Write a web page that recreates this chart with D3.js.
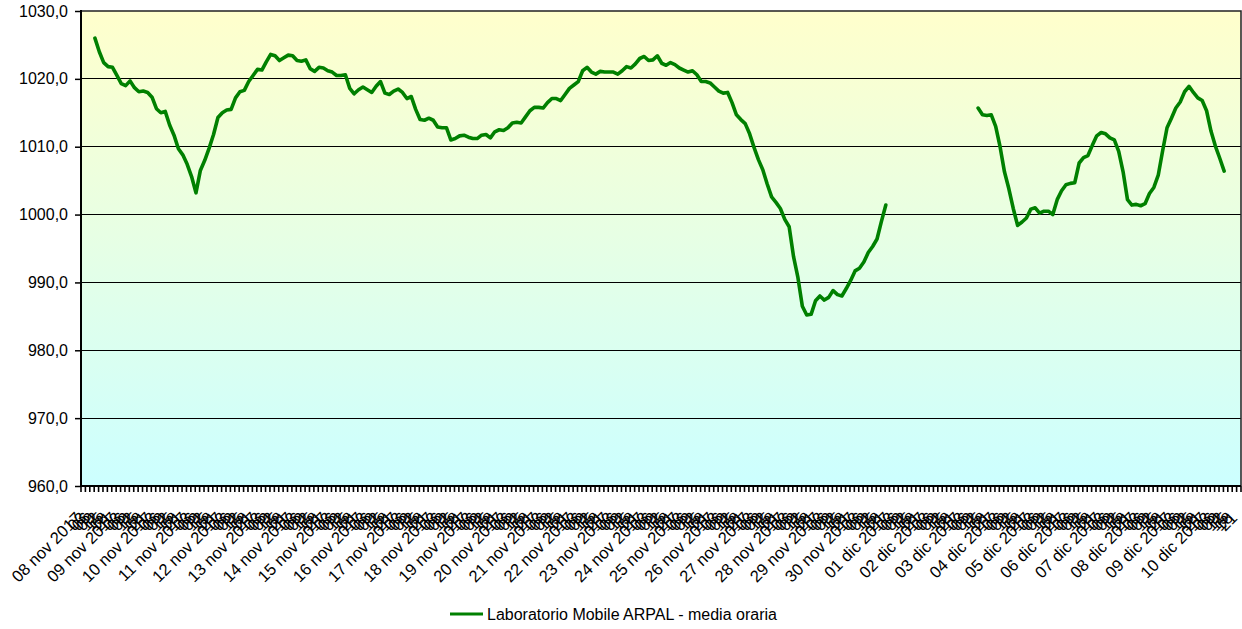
<!DOCTYPE html>
<html><head><meta charset="utf-8">
<script src="https://cdn.jsdelivr.net/npm/d3@7"></script>
<style>
body{margin:0;background:#fff}
svg{display:block}
text{font-family:"Liberation Sans",Arial,sans-serif}
</style>
</head><body>
<svg id="chart" width="1242" height="629"></svg>
<script>
// ---------- data ----------
const startYear = 2017, startMonth = 10, startDay = 8;   // 08 nov 2017
const numDays = 33;                                      // up to 10 dic
const monthNames = ["gen","feb","mar","apr","mag","giu","lug","ago","set","ott","nov","dic"];
const yTickValues = [960, 970, 980, 990, 1000, 1010, 1020, 1030];
const firstHour = 9;      // first reading: 08 nov 09:00
const stepHours = 3;      // readings every 3 hours
const pressure = [
1026.0,1024.0,1022.4,1021.8,1021.7,1020.5,1019.3,1019.0,1019.7,1018.7,
1018.1,1018.2,1018.0,1017.3,1015.6,1015.0,1015.2,1013.2,1011.7,1009.7,
1008.8,1007.4,1005.6,1003.2,1006.5,1008.0,1009.8,1011.8,1014.3,1015.0,
1015.4,1015.5,1017.2,1018.1,1018.3,1019.6,1020.5,1021.4,1021.3,1022.5,
1023.6,1023.4,1022.7,1023.1,1023.5,1023.4,1022.7,1022.6,1022.8,1021.5,
1021.1,1021.7,1021.6,1021.2,1021.0,1020.5,1020.5,1020.6,1018.6,1017.8,
1018.4,1018.8,1018.4,1018.0,1018.9,1019.6,1017.9,1017.7,1018.2,1018.5,
1018.0,1017.1,1017.4,1015.5,1014.0,1013.9,1014.2,1013.9,1012.9,1012.8,
1012.8,1011.0,1011.2,1011.6,1011.7,1011.4,1011.2,1011.2,1011.7,1011.8,
1011.3,1012.2,1012.5,1012.4,1012.8,1013.5,1013.6,1013.5,1014.4,1015.3,
1015.8,1015.8,1015.7,1016.5,1017.1,1017.1,1016.8,1017.7,1018.6,1019.1,
1019.6,1021.2,1021.7,1021.0,1020.7,1021.1,1021.0,1021.0,1021.0,1020.7,
1021.2,1021.8,1021.6,1022.2,1023.0,1023.3,1022.7,1022.8,1023.4,1022.3,
1022.0,1022.4,1022.1,1021.6,1021.3,1021.0,1021.2,1020.6,1019.6,1019.6,
1019.4,1018.8,1018.2,1017.9,1018.0,1016.5,1014.7,1014.0,1013.4,1011.9,
1009.9,1008.1,1006.6,1004.5,1002.6,1001.8,1000.9,999.3,998.2,993.8,
990.7,986.5,985.2,985.3,987.3,988.0,987.4,987.8,988.8,988.2,
988.0,989.1,990.3,991.7,992.1,993.0,994.4,995.3,996.4,999.0,1001.4,
null,null,null,null,null,null,null,null,null,null,
null,null,null,null,null,null,null,null,null,null,
1015.7,1014.7,1014.6,1014.7,1013.0,1010.0,1006.3,1003.8,1000.9,998.4,
998.9,999.5,1000.8,1001.0,1000.2,1000.5,1000.5,1000.0,1002.2,1003.5,
1004.4,1004.6,1004.7,1007.6,1008.4,1008.7,1010.2,1011.6,1012.1,1011.9,
1011.3,1011.0,1009.3,1006.3,1002.2,1001.4,1001.5,1001.3,1001.6,1003.1,
1004.0,1005.8,1009.4,1012.8,1014.2,1015.7,1016.6,1018.1,1018.9,1018.0,
1017.2,1016.8,1015.3,1012.3,1010.1,1008.3,1006.4
];
const seriesName = "Laboratorio Mobile ARPAL - media oraria";

// ---------- layout ----------
const W = 1242, H = 629;
const plot = {left: 81, right: 1241, top: 11, bottom: 486};
const svg = d3.select("#chart");

// hourly categories
const hours = d3.range(numDays * 24);
const catDate = h => new Date(startYear, startMonth, startDay + Math.floor(h / 24), h % 24);
const x = d3.scaleBand().domain(hours).range([plot.left, plot.right]).paddingInner(0).paddingOuter(0);
const xc = h => x(h) + x.bandwidth() / 2;
const y = d3.scaleLinear().domain([960, 1030]).range([plot.bottom, plot.top]);

// background gradient
const defs = svg.append("defs");
const grad = defs.append("linearGradient").attr("id", "bg").attr("x1", 0).attr("y1", 0).attr("x2", 0).attr("y2", 1);
grad.append("stop").attr("offset", "0%").attr("stop-color", "#FFFFCC");
grad.append("stop").attr("offset", "100%").attr("stop-color", "#CCFFFF");
svg.append("rect").attr("x", plot.left).attr("y", plot.top)
  .attr("width", plot.right - plot.left).attr("height", plot.bottom - plot.top)
  .attr("fill", "url(#bg)");

// gridlines
svg.append("g").selectAll("line").data(yTickValues.filter(v => v > 960 && v < 1030)).join("line")
  .attr("x1", plot.left).attr("x2", plot.right)
  .attr("y1", d => y(d)).attr("y2", d => y(d))
  .attr("stroke", "#000").attr("stroke-width", 1).attr("shape-rendering", "crispEdges");

// plot border (top/right)
svg.append("path")
  .attr("d", `M${plot.left},${plot.top}H${plot.right}V${plot.bottom}`)
  .attr("fill", "none").attr("stroke", "#222").attr("stroke-width", 1.5);

// y axis
const fmt = v => d3.format(".1f")(v).replace(".", ",");
const yAxis = d3.axisLeft(y).tickValues(yTickValues).tickFormat(fmt).tickSize(6).tickPadding(7);
const gy = svg.append("g").attr("transform", `translate(${plot.left},0)`).call(yAxis);
gy.select(".domain").attr("stroke", "#000").attr("stroke-width", 2).attr("d", `M0,${plot.top - 1}V${plot.bottom + 1}`);
gy.selectAll(".tick line").attr("stroke", "#000").attr("stroke-width", 1.5);
gy.selectAll(".tick text").attr("font-size", 16).attr("fill", "#000")
  .attr("font-family", "'Liberation Sans', Arial, sans-serif");

// x axis (category axis, tick every 3 hours, labels every 3 hours)
const tickHours = hours.filter(h => h % stepHours === 0);
const gx = svg.append("g");
gx.append("line").attr("x1", plot.left - 1).attr("x2", plot.right).attr("y1", plot.bottom).attr("y2", plot.bottom)
  .attr("stroke", "#000").attr("stroke-width", 2);
gx.selectAll("line.tk").data(tickHours.concat([hours.length])).join("line").attr("class", "tk")
  .attr("x1", h => h < hours.length ? x(h) : plot.right)
  .attr("x2", h => h < hours.length ? x(h) : plot.right)
  .attr("y1", plot.bottom).attr("y2", plot.bottom + 6)
  .attr("stroke", "#000").attr("stroke-width", 1.6);

const labelText = h => {
  const d = catDate(h);
  if (h % 24 === 0) {
    return d3.format("02d")(d.getDate()) + " " + monthNames[d.getMonth()] + " " + d.getFullYear();
  }
  return d3.format("02d")(d.getHours());
};
gx.selectAll("text").data(tickHours).join("text")
  .attr("transform", h => `translate(${xc(h) + 1},${plot.bottom + 33}) rotate(-45)`)
  .attr("text-anchor", "end")
  .attr("font-size", 16.5)
  .attr("fill", "#000")
  .text(labelText);

// series line
const points = pressure.map((v, k) => ({h: firstHour + k * stepHours, v}));
const line = d3.line().defined(d => d.v !== null).x(d => xc(d.h)).y(d => y(d.v));
svg.append("path").datum(points).attr("d", line)
  .attr("fill", "none").attr("stroke", "#008000").attr("stroke-width", 3.6)
  .attr("stroke-linejoin", "round").attr("stroke-linecap", "round");

// legend
const lg = svg.append("g").attr("transform", "translate(450,614)");
lg.append("line").attr("x1", 0).attr("x2", 33).attr("y1", 0).attr("y2", 0)
  .attr("stroke", "#008000").attr("stroke-width", 3.2);
lg.append("text").attr("x", 37).attr("y", 6).attr("font-size", 16).attr("fill", "#000").text(seriesName);
</script>
</body></html>
